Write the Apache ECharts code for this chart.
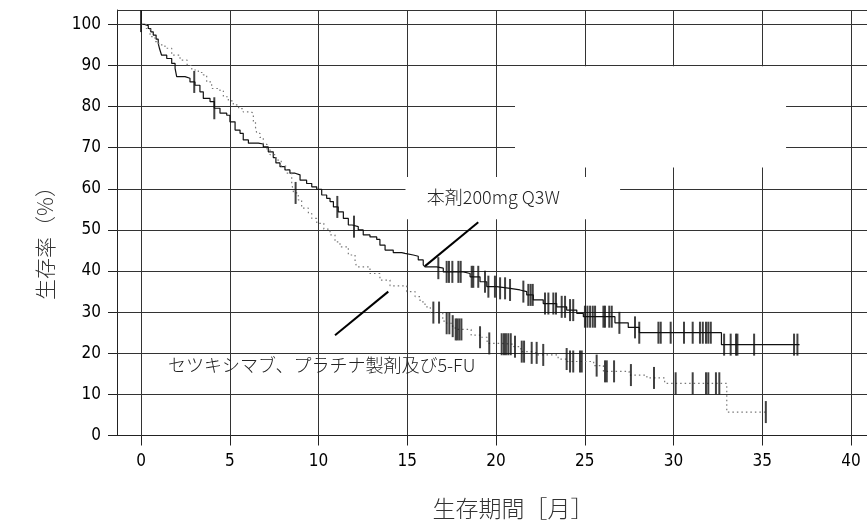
<!DOCTYPE html>
<html><head><meta charset="utf-8">
<script src="https://cdn.jsdelivr.net/npm/echarts@6/dist/echarts.min.js"></script>
<style>html,body{margin:0;padding:0;background:#fff}#c{width:867px;height:531px}</style>
</head><body><div id="c"></div>
<script>
// ---- data ----
const xTicks = [0, 5, 10, 15, 20, 25, 30, 35, 40];
const yTicks = [0, 10, 20, 30, 40, 50, 60, 70, 80, 90, 100];
const xTitle = '生存期間［月］';
const yTitle = '生存率（%）';
const labelA = '本剤200mg Q3W';
const labelB = 'セツキシマブ、プラチナ製剤及び5-FU';

// 本剤200mg Q3W (solid)  [month, survival %]
const armA = [[0,100],[0.2,99.7],[0.41,99.0],[0.55,98.2],[0.69,97.4],[0.85,96.4],[0.97,95.4],[1.05,94.0],[1.16,92.5],[1.45,91.7],[1.73,90.5],[1.92,89.3],[2.01,87.3],[2.48,86.9],[2.76,86.0],[3.04,85.2],[3.32,83.6],[3.51,82.0],[3.89,81.2],[4.13,79.6],[4.45,78.4],[4.83,77.9],[5.01,76.3],[5.30,74.3],[5.58,73.5],[5.76,71.9],[6.05,71.1],[6.61,70.9],[6.89,70.2],[7.17,69.0],[7.45,67.6],[7.6,66.3],[7.83,65.4],[8.11,64.6],[8.39,63.8],[8.68,63.4],[8.96,62.1],[9.33,61.3],[9.62,60.5],[9.90,59.9],[10.18,58.5],[10.46,57.7],[10.65,56.9],[10.84,55.6],[11.11,54.4],[11.40,52.8],[11.68,51.2],[11.9,50.8],[12.24,50.0],[12.52,48.8],[12.90,48.3],[13.28,47.7],[13.46,46.3],[13.75,45.1],[14.21,44.5],[14.69,44.3],[14.87,43.9],[15.34,43.6],[15.62,42.7],[15.9,41.5],[16.0,41.0],[16.66,40.7],[17.03,39.8],[18.16,39.4],[18.54,38.6],[19.1,37.4],[19.48,36.2],[20.04,35.8],[20.79,35.4],[21.35,35.0],[21.73,34.2],[22.10,33.0],[22.66,32.1],[23.42,31.3],[23.98,30.5],[24.55,29.7],[24.92,28.9],[26.7,27.4],[27.45,26.3],[28.07,25.0],[32.7,22.1],[37.1,22.1]];

// セツキシマブ、プラチナ製剤及び5-FU (dotted)
const armB = [[0,100],[0.3,99.0],[0.51,97.0],[0.79,95.8],[1.0,95.0],[1.35,94.2],[1.73,92.5],[2.2,91.3],[2.6,90.0],[2.86,88.9],[3.23,88.3],[3.51,87.7],[3.7,86.0],[3.98,84.4],[4.45,83.8],[4.64,82.4],[4.92,81.4],[5.2,80.4],[5.5,79.5],[5.76,78.7],[6.2,78.4],[6.33,76.3],[6.45,75.0],[6.52,73.5],[6.7,72.5],[6.89,70.8],[7.1,69.5],[7.27,68.3],[7.6,67.0],[7.9,65.5],[8.2,63.8],[8.49,61.3],[8.6,59.0],[8.86,57.3],[9.05,55.3],[9.43,54.0],[9.62,52.8],[9.9,51.6],[10.3,50.2],[10.65,48.8],[10.93,47.1],[11.21,45.9],[11.68,43.9],[12.06,42.3],[12.15,41.0],[12.9,39.4],[13.46,37.8],[14.03,36.4],[14.97,35.0],[15.44,33.8],[15.72,32.5],[16.0,31.3],[16.3,29.9],[17.0,27.8],[17.22,27.3],[17.5,26.6],[17.7,25.8],[18.6,24.4],[19.1,23.9],[19.5,22.4],[20.3,22.2],[21.0,21.6],[21.4,20.4],[22.0,20.1],[22.3,19.6],[23.5,18.6],[24.0,18.0],[25.5,17.0],[26.05,15.6],[27.5,14.7],[28.5,14.0],[29.5,12.7],[33.0,5.7],[35.3,5.7]];

// censored times
const censorA = [0,3.0,4.13,11.06,12.0,16.75,17.22,17.35,17.54,17.88,18.01,18.63,18.72,19.0,19.38,19.57,19.94,20.23,20.51,20.79,21.54,21.82,21.95,22.07,22.76,22.95,23.23,23.38,23.70,23.89,24.17,24.35,25.01,25.15,25.3,25.45,25.58,26.05,26.14,26.38,26.52,26.95,27.83,28.07,29.15,29.28,29.84,30.59,31.08,31.49,31.65,31.83,31.96,32.10,32.85,33.22,33.52,33.60,34.54,36.79,36.98];
const censorB = [8.71,16.47,16.79,17.22,17.37,17.56,17.73,17.82,17.93,18.05,19.10,19.62,20.32,20.45,20.56,20.69,20.83,21.07,21.45,21.58,22.01,22.29,22.66,23.98,24.17,24.35,24.73,24.83,25.67,26.14,26.24,26.65,27.6,28.9,30.12,31.08,31.83,31.96,32.39,32.58,35.2];

// annotation pointer lines [[x1,y1],[x2,y2]] and label anchors
const pointerA = [[16.0, 41.2], [19.0, 51.85]];
const pointerB = [[10.93, 24.4], [13.93, 35.0]];
const labelAPos = [16.1, 58.0];
const labelBPos = [1.52, 17.1];
const blankBoxes = [[[21.07, 89.8], [36.34, 65.2]], [[14.9, 62.9], [26.99, 52.6]]];

// ---- chart ----
const X_MIN = -1.352, X_MAX = 40.9, Y_MIN = 0, Y_MAX = 103.5;
function stepAt(curve, t) {
  let v = curve[0][1];
  for (const p of curve) { if (p[0] <= t) v = p[1]; else break; }
  return v;
}
const numFont = '"Liberation Sans Narrow","DejaVu Sans Condensed","Liberation Sans",Arial,sans-serif';
const cjkFont = '"Noto Sans CJK JP","Noto Sans",sans-serif';

const chart = echarts.init(document.getElementById('c'), null, {renderer: 'canvas'});
chart.setOption({
  animation: false,
  backgroundColor: '#fff',
  grid: {left: 117, top: 10, right: 0, bottom: 95.5, show: false},
  xAxis: {
    type: 'value', min: X_MIN, max: X_MAX,
    axisLine: {show: true, onZero: false, lineStyle: {color: '#222', width: 1}},
    splitLine: {show: false},
    axisTick: {show: true, customValues: xTicks, length: 10, lineStyle: {color: '#222', width: 1}},
    axisLabel: {customValues: xTicks, margin: 18, color: '#000', fontSize: 17, fontFamily: numFont}
  },
  yAxis: {
    type: 'value', min: Y_MIN, max: Y_MAX,
    axisLine: {show: true, onZero: false, lineStyle: {color: '#222', width: 1}},
    splitLine: {show: false},
    axisTick: {show: true, customValues: yTicks, length: 9, lineStyle: {color: '#222', width: 1}},
    axisLabel: {customValues: yTicks, margin: 16, color: '#000', fontSize: 17, fontFamily: numFont}
  },
  graphic: [
    {type: 'text', x: 513, y: 508, style: {text: xTitle, fontSize: 23, fontFamily: cjkFont, fontWeight: 300, fill: '#333', textAlign: 'center', textVerticalAlign: 'middle'}},
    {type: 'text', x: 45, y: 238, rotation: Math.PI / 2, style: {text: yTitle, fontSize: 21, fontFamily: cjkFont, fontWeight: 300, fill: '#333', textAlign: 'center', textVerticalAlign: 'middle'}}
  ],
  series: [
    {
      type: 'line', data: [], silent: true,
      markLine: {
        silent: true, z: 1, symbol: ['none', 'none'], label: {show: false},
        lineStyle: {color: '#333', width: 1, type: 'solid'},
        data: xTicks.map(v => ({xAxis: v})).concat(yTicks.filter(v => v > 0).map(v => ({yAxis: v}))).concat([{yAxis: Y_MAX}])
      },
      markArea: {
        silent: true, z: 2, itemStyle: {color: '#fff', opacity: 1},
        data: blankBoxes.map(b => [{coord: b[0]}, {coord: b[1]}])
      }
    },
    {
      name: labelA, type: 'line', step: 'end', data: armA, z: 3, showSymbol: false, symbol: 'none',
      lineStyle: {color: '#111', width: 1.2}
    },
    {
      name: labelB, type: 'line', step: 'end', data: armB, z: 3, showSymbol: false, symbol: 'none',
      lineStyle: {color: '#777', width: 1.2, type: [1.5, 3]}
    },
    {
      type: 'scatter', z: 4, symbol: 'rect', symbolSize: [2, 22], itemStyle: {color: '#111'},
      data: censorA.map(t => [t, t === 0 ? 100.8 : stepAt(armA, t)])
    },
    {
      type: 'scatter', z: 4, symbol: 'rect', symbolSize: [2, 22], itemStyle: {color: '#111'},
      data: censorB.map(t => [t, stepAt(armB, t)])
    },
    {
      type: 'line', data: [], silent: true,
      markLine: {
        silent: true, z: 5, symbol: ['none', 'none'], label: {show: false},
        lineStyle: {color: '#000', width: 2, type: 'solid'},
        data: [
          [{coord: pointerA[0]}, {coord: pointerA[1]}],
          [{coord: pointerB[0]}, {coord: pointerB[1]}]
        ]
      },
      markPoint: {
        silent: true, z: 6, symbol: 'circle', symbolSize: 0,
        label: {show: true, position: 'right', distance: 0, color: '#222', fontSize: 18, fontFamily: cjkFont, fontWeight: 300},
        data: [
          {coord: labelAPos, value: labelA, label: {formatter: labelA}},
          {coord: labelBPos, value: labelB, label: {formatter: labelB}}
        ]
      }
    }
  ]
});
</script>
</body></html>
